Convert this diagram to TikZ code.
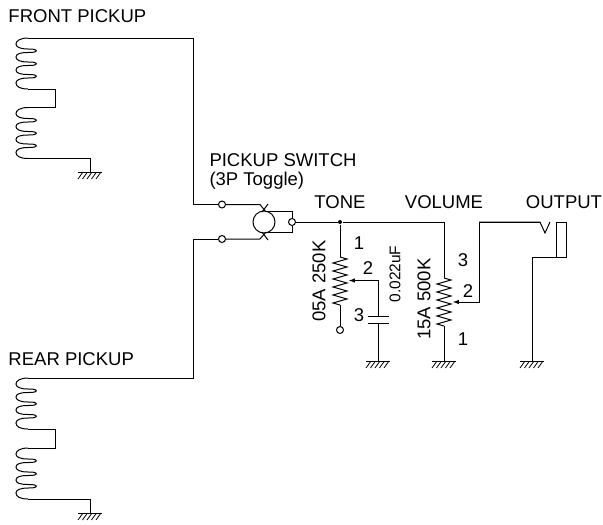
\documentclass[tikz,border=0pt]{standalone}
\usepackage{fontspec}
\setmainfont{Liberation Sans}

\tikzset{
  term/.style={circle,draw,fill=white,inner sep=0pt,minimum size=7pt},
  junc/.style={circle,fill=black,inner sep=0pt,minimum size=4pt},
  lab/.style={inner sep=0pt,font=\fontsize{18.5}{22}\selectfont},
  pics/coil/.style={code={
    \draw (0,0) .. controls (-8,0) and (-12,3) .. (-12,6)
      .. controls (-12,9) and (-8,11) .. (0,11)
      .. controls (11,10.5) and (11,15) .. (0,14.5)
      .. controls (-8,14.5) and (-12,16) .. (-12,19)
      .. controls (-12,22) and (-8,24) .. (0,24)
      .. controls (11,23.5) and (11,28) .. (0,27.5)
      .. controls (-8,27.5) and (-12,29) .. (-12,32)
      .. controls (-12,35) and (-8,36.5) .. (0,36.5)
      .. controls (11,36) and (11,40.5) .. (0,40)
      .. controls (-8,40) and (-12,42) .. (-12,45)
      .. controls (-12,48.5) and (-8,51) .. (0,51);
  }},
  pics/grnd/.style={code={
    \draw (-12,0) -- (12,0);
    \foreach \i in {-7,-2.5,2,6.5,11}
      \draw[line width=.8pt] (\i,0) -- (\i-5,7);
  }},
  pics/zig/.style={code={
    \draw (0,0) -- (7,2) -- (-7,6) -- (7,10) -- (-7,14) -- (7,18) -- (-7,22)
      -- (7,26) -- (-7,30) -- (7,34) -- (-7,38) -- (7,42) -- (-7,46) -- (0,48);
  }},
}

\begin{document}
\begin{tikzpicture}[x=1pt,y=-1pt,line width=1pt]
  \useasboundingbox (0,0) rectangle (603,525);

  % labels
  \node[lab,anchor=west] (frontlab) at (8,16) {FRONT PICKUP};
  \node[lab,anchor=west] (rearlab) at (8,359) {REAR PICKUP};
  \node[lab,anchor=west] (swlab) at (209,160) {PICKUP SWITCH};
  \node[lab,anchor=west] (toggle) at (209,181) {(3P Toggle)};
  \node[lab] (tonelab) at (340,202) {TONE};
  \node[lab] (vollab) at (444,202) {VOLUME};
  \node[lab] (outlab) at (564,202) {OUTPUT};
  \node[lab,rotate=90] (tonepot) at (319,281) {05A 250K};
  \node[lab,rotate=90] (volpot) at (424,299) {15A 500K};
  \node[inner sep=0pt,rotate=90,font=\fontsize{15.5}{18}\selectfont] (capval) at (395,274) {0.022uF};
  \node[lab] (t1) at (359,243) {1};
  \node[lab] (t2) at (368,268) {2};
  \node[lab] (t3) at (359,315) {3};
  \node[lab] (v3) at (463,260) {3};
  \node[lab] (v2) at (468,291) {2};
  \node[lab] (v1) at (463,339) {1};

  % pickups
  \pic at (28,38) {coil};
  \pic at (28,107.5) {coil};
  \pic at (28,378) {coil};
  \pic at (28,448) {coil};

  \coordinate (fa) at (28,38);
  \coordinate (fb) at (28,89);
  \coordinate (fc) at (28,107.5);
  \coordinate (fd) at (28,158.5);
  \coordinate (ra) at (28,378);
  \coordinate (rb) at (28,429);
  \coordinate (rc) at (28,448);
  \coordinate (rd) at (28,499);
  \coordinate (g1) at (90,172);
  \coordinate (g2) at (90,513);
  \coordinate (g3) at (378,361);
  \coordinate (g4) at (444,361);
  \coordinate (g5) at (532,361);

  \pic at (g1) {grnd};
  \pic at (g2) {grnd};
  \pic at (g3) {grnd};
  \pic at (g4) {grnd};
  \pic at (g5) {grnd};

  % switch
  \node[term] (swa) at (222,204.5) {};
  \node[term] (swb) at (222,239) {};
  \node[term] (swc) at (292,222) {};
  \node[circle,draw,inner sep=0pt,minimum size=22pt] (swm) at (264,222) {};
  \coordinate (swd) at (260,204.5);
  \coordinate (swe) at (260,239);

  \draw (fa) -- (193,38) -- (193,204.5) -- (swa);
  \draw (ra) -- (193,378) -- (193,239) -- (swb);
  \draw (swa) -- (swd) -- (266,212);
  \draw (swb) -- (swe) -- (266,232);
  \draw (268,204) -- (262,212);
  \draw (268,240) -- (262,232);
  \draw (266,211) -- (292,211) -- (swc) -- (292,232) -- (266,232);

  \draw (fb) -- (55,89) -- (55,107.5) -- (fc);
  \draw (rb) -- (55,429) -- (55,448) -- (rc);
  \draw (fd) -- (90,158.5) -- (g1);
  \draw (rd) -- (90,499) -- (g2);

  % tone
  \node[junc] (tonej) at (340,222) {};
  \node[term] (tonee) at (340,330) {};
  \coordinate (ztop) at (340,257);
  \coordinate (zbot) at (340,305);
  \pic at (ztop) {zig};
  \path (swc) edge[draw] (tonej);
  \draw (tonej) -- (ztop);
  \draw (zbot) -- (tonee);
  \coordinate (capa) at (378,316);
  \coordinate (capb) at (378,323);
  \draw (368,316) -- (389,316);
  \draw (368,323) -- (389,323);
  \draw[-latex] (capa) -- (378,280.5) -- (349,280.5);
  \draw (capb) -- (g3);

  % volume
  \coordinate (vtop) at (444,278);
  \coordinate (vbot) at (444,326);
  \pic at (vtop) {zig};
  \draw (tonej) -- (444,222) -- (vtop);
  \draw (vbot) -- (g4);
  \draw[-latex] (540,222) -- (479,222) -- (479,302) -- (453,302);

  % output jack
  \draw (479,222) -- (540,222) -- (545,233) -- (550,222);
  \draw (556,222) rectangle (566,257);
  \draw (556,257) -- (532,257) -- (g5);
\end{tikzpicture}
\end{document}
